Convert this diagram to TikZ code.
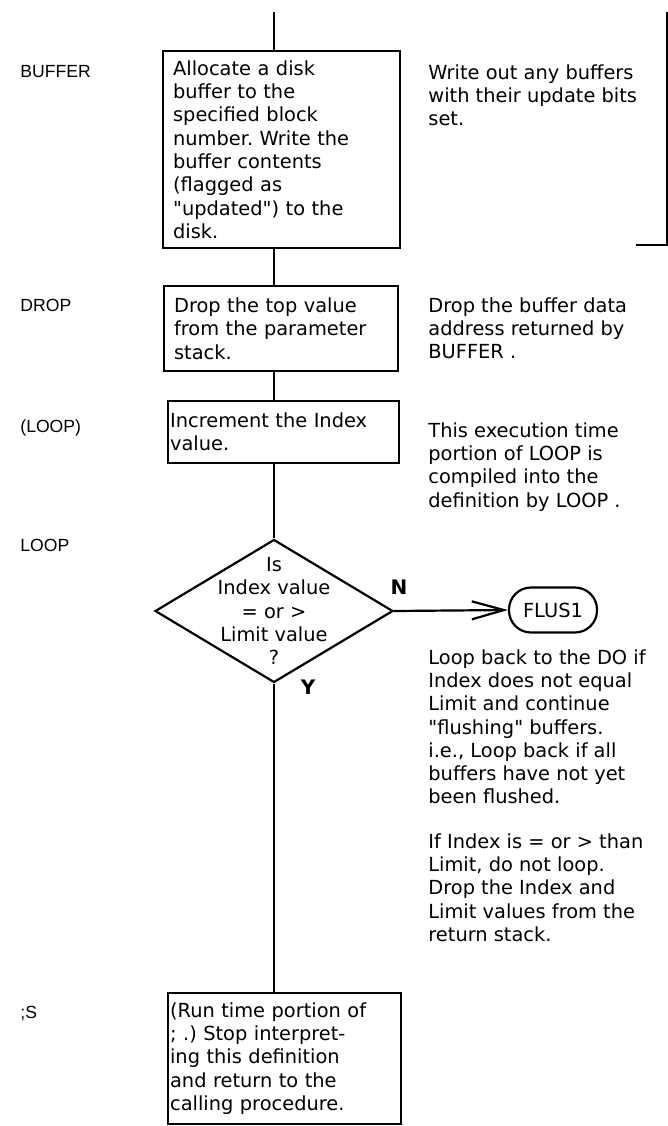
\documentclass[tikz,border=0pt]{standalone}
\usepackage{fontspec}
\setmainfont{DejaVu Sans}[Ligatures=TeXOff]
\newfontfamily\wordfont{Liberation Sans}
\usetikzlibrary{positioning,arrows.meta,shapes.geometric}
\frenchspacing
\tikzset{
  flowline/.style={line width=1.1pt},
  flowarrow/.style={line width=1.1pt, -{Straight Barb[length=16pt, width=9pt, line width=1.1pt]}},
  procbox/.style={draw, line width=1.1pt, anchor=north west, align=left, inner ysep=2pt, inner xsep=5pt},
  decision/.style={draw, diamond, line width=1.1pt, minimum width=119pt, minimum height=71.5pt, inner sep=0pt},
  terminal/.style={draw, rounded corners=11pt, line width=1.1pt, minimum width=44pt, minimum height=22.5pt, inner sep=0pt},
  note/.style={anchor=north west, align=left, inner sep=0pt},
  wordlabel/.style={anchor=west, inner sep=0pt, font=\wordfont\fontsize{8.8}{10.5}\selectfont},
  branch/.style={font=\bfseries\fontsize{10}{12}\selectfont}
}

\begin{document}
\begin{tikzpicture}[x=0.5pt, y=-0.5pt, every node/.style={font=\fontsize{9.7}{11.65}\selectfont}]
      \useasboundingbox (0,0) rectangle (668,1126);
      % words on the left
      \node[wordlabel] (wbuffer) at (20,72) {BUFFER};
      \node[wordlabel] (wdrop) at (20,305) {DROP};
      \node[wordlabel] (wploop) at (20,428) {(LOOP)};
      \node[wordlabel] (wloop) at (20,545) {LOOP};
      \node[wordlabel] (wsemis) at (20,1013) {;S};
      % flow
      \coordinate (top) at (274,12);
      \node[procbox, text width=108.5pt, minimum height=98.5pt] (alloc) at (162,50) {Allocate a disk\\buffer to the\\specified block\\number. Write the\\buffer contents\\(flagged as\\"updated") to the\\disk.};
      \node[procbox, text width=107pt, minimum height=42.5pt] (droptop) at (163,285) {Drop the top value\\from the parameter\\stack.};
      \node[procbox, inner xsep=1pt, text width=113.5pt, minimum height=31pt] (incr) at (167,400) {Increment the Index\\value.};
      \node[decision] (test) at (274,611) {};
      \node[align=center] (testtext) at (test.center) {Is\\Index value\\= or >\\Limit value\\?};
      \node[terminal] (flus) at (553,610) {FLUS1};
      \node[procbox, inner xsep=1pt, text width=114.5pt, minimum height=65.5pt] (stop) at (167,992) {(Run time portion of\\; .) Stop interpret-\\ing this definition\\and return to the\\calling procedure.};
      \node[branch] (nlab) at (399,587) {N};
      \node[branch] (ylab) at (308,687) {Y};
      \draw[flowline] (top) -- (alloc.north -| top);
      \draw[flowline] (alloc.south -| top) -- (droptop.north -| top);
      \draw[flowline] (droptop.south -| top) -- (incr.north -| top);
      \draw[flowline] (incr.south -| top) -- (test.north);
      \draw[flowline] (test.south) -- (stop.north -| test.south);
      \draw[flowarrow] (test.east) -- (flus.west);
      % notes on the right
      \node[note] (nwrite) at (428,64) {Write out any buffers\\with their update bits\\set.};
      \node[note] (ndrop) at (428,297) {Drop the buffer data\\address returned by\\BUFFER .};
      \node[note] (nexec) at (428,422) {This execution time\\portion of LOOP is\\compiled into the\\definition by LOOP .};
      \node[note] (nback) at (428,649) {Loop back to the DO if\\Index does not equal\\Limit and continue\\"flushing" buffers.\\i.e., Loop back if all\\buffers have not yet\\been flushed.};
      \node[note] (nend) at (428,833) {If Index is = or > than\\Limit, do not loop.\\Drop the Index and\\Limit values from the\\return stack.};
      \coordinate (brtop) at (667,12);
      \coordinate (brend) at (636,245);
      \draw[flowline] (brtop) |- (brend);
    \end{tikzpicture}
\end{document}
